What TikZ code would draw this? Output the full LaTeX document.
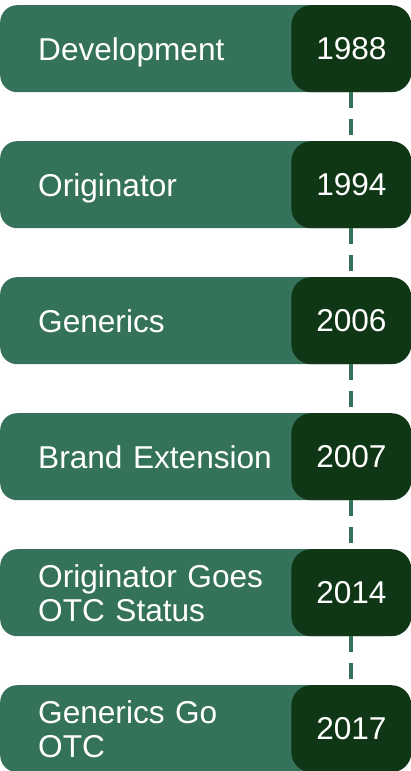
\documentclass[tikz,border=0pt]{standalone}
\usepackage{fontspec}
\setmainfont{Liberation Sans}
\usetikzlibrary{positioning}
\definecolor{barGreen}{RGB}{53,114,90}
\definecolor{yearGreen}{RGB}{15,54,21}

\begin{document}
\begin{tikzpicture}[node distance=48.6pt]
  \tikzstyle{bar}=[fill=barGreen,rounded corners=17pt,text=white,align=left,text width=324pt,inner xsep=38pt,minimum height=87pt,font=\fontsize{31.6}{34}\selectfont]
  \tikzstyle{single}=[text depth=0pt]
  \tikzstyle{year}=[fill=yearGreen,rounded corners=20pt,text=white,minimum width=120pt,minimum height=87pt,font=\fontsize{31.6}{34}\selectfont]
  \tikzstyle{link}=[barGreen,line width=4pt,dash pattern=on 16pt off 11pt]
  \useasboundingbox (0pt,0pt) rectangle (411pt,-771pt);
  \node[bar,single,anchor=north west] (dev) at (0pt,-5pt) {Development};
  \node[bar,single,below=of dev] (orig) {Originator};
  \node[bar,single,below=of orig] (gen) {Generics};
  \node[bar,single,below=of gen] (brand) {Brand Extension};
  \node[bar,below=of brand] (origotc) {Originator Goes\\OTC Status};
  \node[bar,below=of origotc] (genotc) {Generics Go\\OTC};
  \node[year] (y1988) at ([xshift=-49pt]dev.east) {1988};
  \node[year] (y1994) at ([xshift=-49pt]orig.east) {1994};
  \node[year] (y2006) at ([xshift=-49pt]gen.east) {2006};
  \node[year] (y2007) at ([xshift=-49pt]brand.east) {2007};
  \node[year] (y2014) at ([xshift=-49pt]origotc.east) {2014};
  \node[year] (y2017) at ([xshift=-49pt]genotc.east) {2017};
  \draw[link] (y1988) -- (y1994);
  \draw[link] (y1994) -- (y2006);
  \draw[link] (y2006) -- (y2007);
  \draw[link] (y2007) -- (y2014);
  \draw[link] (y2014) -- (y2017);
\end{tikzpicture}
\end{document}
